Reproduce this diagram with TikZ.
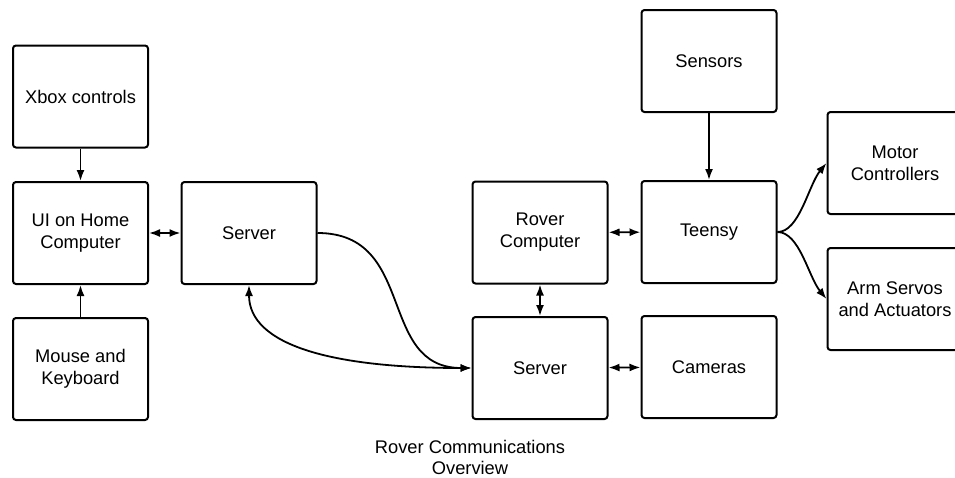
\documentclass[tikz,border=0pt]{standalone}
\usepackage{fontspec}
\setmainfont{Liberation Sans}
\usetikzlibrary{arrows.meta}

\begin{document}
\begin{tikzpicture}[
x=1pt,y=-1pt,
box/.style={%
draw,
line width=2pt,
rounded corners=3pt,
minimum width=135pt,
minimum height=102pt,
align=center,
font=\fontsize{18.3}{22}\selectfont
},
link/.style={line width=1.8pt,-{Latex[length=11pt,width=8pt]}},
both/.style={line width=1.8pt,{Latex[length=11pt,width=8pt]}-{Latex[length=11pt,width=8pt]}}
]
\clip(0,0)rectangle(955,477);
%% Home side
\node[box]at(80.5,96.5)(xbox){Xbox controls};
\node[box]at(80.5,233)(ui){UI on Home\\Computer};
\node[box]at(80.5,369)(mouse){Mouse and\\Keyboard};
\node[box]at(249,233)(srvL){Server};
\draw[link](xbox)--(ui);
\draw[link](mouse)--(ui);
\draw[both](ui)--(srvL);
%% Rover side
\node[box]at(540,232.5)(rover){Rover\\Computer};
\node[box]at(540,368)(srvR){Server};
\node[box]at(709,61)(sensors){Sensors};
\node[box]at(709,232)(teensy){Teensy};
\node[box]at(709,367)(cams){Cameras};
\draw[both](rover)--(teensy);
\draw[both](rover)--(srvR);
\draw[both](srvR)--(cams);
\draw[link](sensors)--(teensy);
%% Link between servers
\draw[link](srvL.east)..controls +(100,0) and +(-95,0)..(srvR.west);
\draw[both](srvL.south)..controls +(0,60) and +(-140,0)..(srvR.west);
%% Outputs
\node[box]at(895,163)(motor){Motor\\Controllers};
\node[box]at(895,299)(arm){Arm Servos\\and Actuators};
\draw[link](teensy.east)..controls +(22,0) and +(-18,22)..(motor.west);
\draw[link](teensy.east)..controls +(22,0) and +(-18,-22)..(arm.west);
%% Title
\node[align=center,font=\fontsize{18.3}{21}\selectfont]at(470,457)(title){Rover Communications\\Overview};
\end{tikzpicture}
\end{document}
